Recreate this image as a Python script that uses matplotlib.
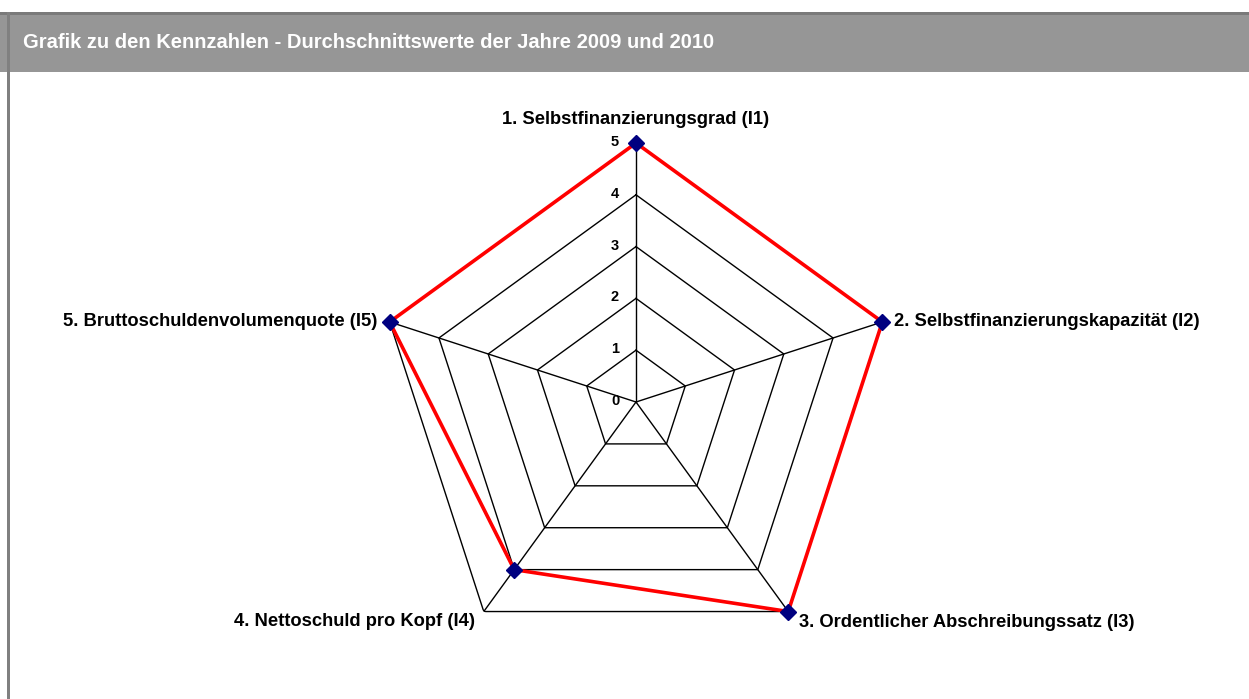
import matplotlib.pyplot as plt
from matplotlib.patches import Rectangle
import numpy as np

plt.rcParams['font.family'] = ['Liberation Sans', 'DejaVu Sans']
plt.rcParams['font.weight'] = 'bold'

title = 'Grafik zu den Kennzahlen - Durchschnittswerte der Jahre 2009 und 2010'
categories = ['1. Selbstfinanzierungsgrad (I1)',
              '2. Selbstfinanzierungskapazität (I2)',
              '3. Ordentlicher Abschreibungssatz (I3)',
              '4. Nettoschuld pro Kopf (I4)',
              '5. Bruttoschuldenvolumenquote (I5)']
values = [5, 5, 5, 4, 5]
rings = [1, 2, 3, 4, 5]
tick_labels = ['0', '1', '2', '3', '4', '5']

W, H = 1249, 699
fig = plt.figure(figsize=(W / 100, H / 100), dpi=100)

# header bar and frame
fig.patches.append(Rectangle((0, 1 - 72 / H), 1, 58 / H, transform=fig.transFigure,
                             facecolor='#969696', edgecolor='none', zorder=0))
fig.patches.append(Rectangle((0, 1 - 15 / H), 1, 3 / H, transform=fig.transFigure,
                             facecolor='#7a7a7a', edgecolor='none', zorder=1))
fig.patches.append(Rectangle((7 / W, 0), 3 / W, 1 - 12 / H, transform=fig.transFigure,
                             facecolor='#808080', edgecolor='none', zorder=1))
fig.text(23 / W, 1 - 43 / H, title, color='white', fontsize=14.5, fontweight='bold',
         ha='left', va='center')

cx, cy, rad = 636, 402, 259
ax = fig.add_axes([(cx - rad) / W, (H - cy - rad) / H, 2 * rad / W, 2 * rad / H],
                  projection='polar')
ax.set_theta_zero_location('N')
ax.set_theta_direction(-1)
ax.set_ylim(0, 5)
ax.grid(False)
ax.spines['polar'].set_visible(False)
ax.set_xticks([])
ax.set_yticks([])
ax.patch.set_alpha(0)

n = len(categories)
theta = np.linspace(0, 2 * np.pi, n, endpoint=False)
closed = np.append(theta, theta[0])

# web grid
for r in rings:
    ax.plot(closed, [r] * (n + 1), color='black', lw=1.0, zorder=1)
for t in theta:
    ax.plot([t, t], [0, rings[-1]], color='black', lw=1.0, zorder=1)

# data series
vals = values + values[:1]
ax.plot(closed, vals, color='#ff0000', lw=2.6, zorder=2, clip_on=False)
ax.plot(theta, values, ls='none', marker='D', ms=8, color='#000080', zorder=3,
        clip_on=False)

# scale labels along the first spoke
for i, lab in enumerate(tick_labels):
    ax.annotate(lab, xy=(0, i), xytext=(-21, 1), textcoords='offset pixels',
                ha='center', va='center', fontsize=10.5, fontweight='bold',
                annotation_clip=False)

# category labels
offsets = [((0, 24), 'center'), ((12, 0), 'left'), ((11, -11), 'left'),
           ((-9, -10), 'right'), ((-12, 0), 'right')]
for t, lab, (off, ha) in zip(theta, categories, offsets):
    ax.annotate(lab, xy=(t, rings[-1]), xytext=off, textcoords='offset pixels',
                ha=ha, va='center', fontsize=13.2, fontweight='bold',
                annotation_clip=False)

fig.savefig('out.png', dpi=100)
